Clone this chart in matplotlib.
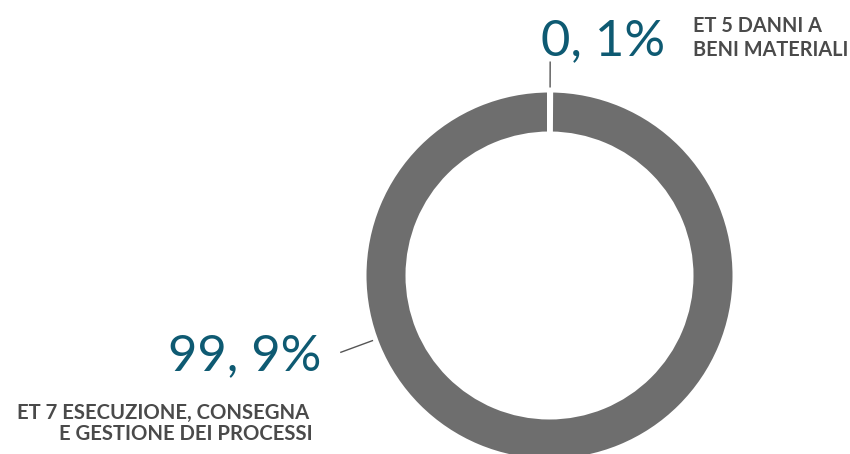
import numpy as np
import matplotlib
matplotlib.use("Agg")
import matplotlib.pyplot as plt

# Share of operational-loss events by event type
categories = ["ET 5 DANNI A BENI MATERIALI",
              "ET 7 ESECUZIONE, CONSEGNA E GESTIONE DEI PROCESSI"]
shares = [0.1, 99.9]
label_lines = [["ET 5 DANNI A", "BENI MATERIALI"],
               ["ET 7 ESECUZIONE, CONSEGNA", "E GESTIONE DEI PROCESSI"]]

RING = "#6e6e6e"
TEAL = "#0e5a72"
TEXT = "#4a4a4a"
FONT = ["Lato", "DejaVu Sans"]

W, H = 850, 454
fig = plt.figure(figsize=(W / 100, H / 100), dpi=100)
ax = fig.add_axes([0, 0, 1, 1])

cx, cy = 549.5, H - 275.5
edge_lw = 3.6                      # white separator, in points
pad = edge_lw / 2 * 100 / 72       # half the separator, in pixels
r_out, ring_w = 183 + pad, 39 + 2 * pad

wedges, _ = ax.pie(shares, center=(cx, cy), radius=r_out, startangle=90,
                   counterclock=False, colors=[RING, RING],
                   wedgeprops=dict(width=ring_w, edgecolor="white",
                                   linewidth=edge_lw))
ax.set_xlim(0, W)
ax.set_ylim(0, H)
ax.set_aspect("equal")
ax.axis("off")


def pct(v):
    return f"{v:.1f}".replace(".", ", ") + "%"


def leader(angle_deg, r0, r1):
    a = np.deg2rad(angle_deg)
    ax.plot([cx + r0 * np.cos(a), cx + r1 * np.cos(a)],
            [cy + r0 * np.sin(a), cy + r1 * np.sin(a)],
            color="#555555", lw=1.0, solid_capstyle="butt")


# small slice: callout above the ring
w0 = wedges[0]
leader((w0.theta1 + w0.theta2) / 2, 183 + 5, 183 + 31)
ax.text(541, H - 55, pct(shares[0]), color=TEAL, fontsize=36.5,
        family=FONT, ha="left", va="baseline")
ax.text(693, H - 31.5, label_lines[0][0], color=TEXT, fontsize=14.3,
        family=FONT, fontweight="bold", ha="left", va="baseline")
ax.text(693, H - 55.5, label_lines[0][1], color=TEXT, fontsize=14.3,
        family=FONT, fontweight="bold", ha="left", va="baseline")

# large slice: callout on the left
leader(200.2, 183 + 5, 183 + 40)
ax.text(321, H - 370, pct(shares[1]), color=TEAL, fontsize=36.5,
        family=FONT, ha="right", va="baseline")
ax.text(309, H - 419, label_lines[1][0], color=TEXT, fontsize=14.6,
        family=FONT, fontweight="bold", ha="right", va="baseline")
ax.text(313, H - 440, label_lines[1][1], color=TEXT, fontsize=14.6,
        family=FONT, fontweight="bold", ha="right", va="baseline")

fig.savefig("out.png", dpi=100, facecolor="white")
